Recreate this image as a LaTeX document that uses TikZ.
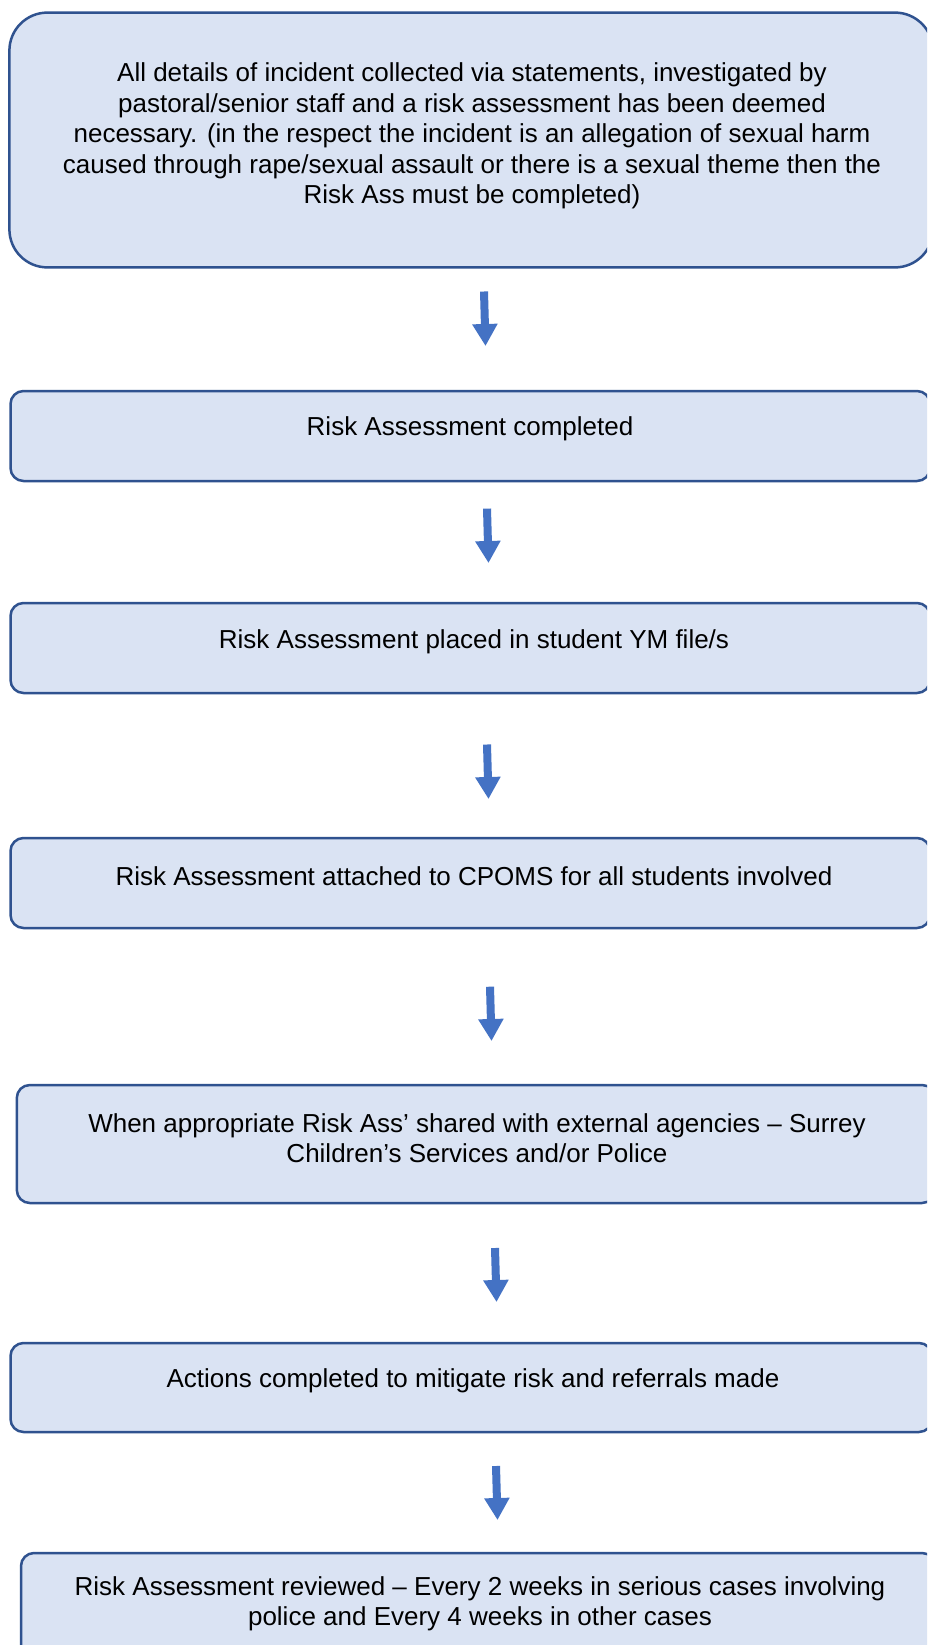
\documentclass[tikz,border=0pt]{standalone}
\usepackage{fontspec}
\setmainfont{Liberation Sans}
\usetikzlibrary{arrows.meta}
\definecolor{boxfill}{HTML}{DAE3F3}
\definecolor{boxline}{HTML}{2F528F}
\definecolor{arrowblue}{HTML}{4472C4}
\tikzset{
  flowbox/.style={draw=boxline, fill=boxfill, line width=2.5pt, rounded corners=13pt},
  boxtext/.style={align=center, font=\fontsize{26pt}{30.4pt}\selectfont, inner sep=0pt},
  flowarrow/.style={draw=arrowblue, line width=8pt, -{Triangle[width=24pt,length=22pt]}}
}
\begin{document}
\begin{tikzpicture}[x=1pt,y=-1pt]
\useasboundingbox (0,0) rectangle (927,1645);
\fill[white] (0,0) rectangle (927,1645);
\clip (0,0) rectangle (927,1645);
% boxes
\draw[flowbox, rounded corners=38pt] (9.4,12.6) rectangle (933,267.4);
\node[boxtext] (t1) at (472,136) {All details of incident collected via statements, investigated by\\
pastoral/senior staff and a risk assessment has been deemed\\
necessary. (in the respect the incident is an allegation of sexual harm\\
caused through rape/sexual assault or there is a sexual theme then the\\
Risk Ass must be completed)};
\draw[flowbox] (10.5,391) rectangle (930,481);
\node[boxtext] (t2) at (470,429) {Risk Assessment completed};
\draw[flowbox] (10.5,603) rectangle (930,693);
\node[boxtext] (t3) at (474,642) {Risk Assessment placed in student YM file/s};
\draw[flowbox] (10.5,838) rectangle (930,928);
\node[boxtext] (t4) at (474,876) {Risk Assessment attached to CPOMS for all students involved};
\draw[flowbox] (16.8,1085) rectangle (935,1203);
\node[boxtext] (t5) at (477,1138) {When appropriate Risk Ass’ shared with external agencies – Surrey\\Children’s Services and/or Police};
\draw[flowbox] (10.5,1343) rectangle (932,1432);
\node[boxtext] (t6) at (473,1381) {Actions completed to mitigate risk and referrals made};
\draw[flowbox] (21,1553) rectangle (935,1665);
\node[boxtext] (t7) at (480,1604) {Risk Assessment reviewed – Every 2 weeks in serious cases involving\\police and Every 4 weeks in other cases};
% arrows
\coordinate (a1s) at (484,291.5); \coordinate (a1e) at (485.5,346);
\coordinate (a2s) at (487,508.6); \coordinate (a2e) at (488.5,563);
\coordinate (a3s) at (487,744.5); \coordinate (a3e) at (488.5,799);
\coordinate (a4s) at (490,986.7); \coordinate (a4e) at (491.5,1041);
\coordinate (a5s) at (495,1248); \coordinate (a5e) at (496.5,1302);
\coordinate (a6s) at (496,1466); \coordinate (a6e) at (497.5,1520);
\draw[flowarrow] (a1s) -- (a1e);
\draw[flowarrow] (a2s) -- (a2e);
\draw[flowarrow] (a3s) -- (a3e);
\draw[flowarrow] (a4s) -- (a4e);
\draw[flowarrow] (a5s) -- (a5e);
\draw[flowarrow] (a6s) -- (a6e);
\end{tikzpicture}
\end{document}
